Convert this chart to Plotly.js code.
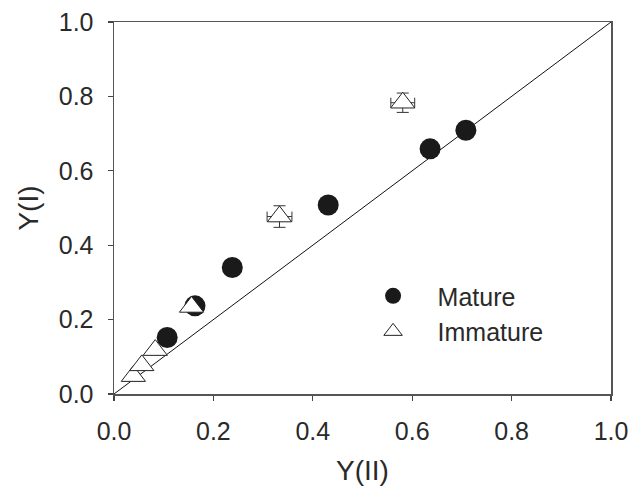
<!DOCTYPE html>
<html>
<head>
<meta charset="utf-8">
<script src="https://cdn.plot.ly/plotly-3.0.1.min.js"></script>
<style>html,body{margin:0;padding:0;background:#fff;}#chart{width:632px;height:497px;}</style>
</head>
<body>
<div id="chart"></div>
<script>
// Mature (filled circles)
const matureX = [0.107, 0.163, 0.238, 0.431, 0.636, 0.708];
const matureY = [0.152, 0.237, 0.340, 0.508, 0.659, 0.709];
// Immature (open triangles)
const immatureX = [0.039, 0.056, 0.083, 0.156, 0.333, 0.581];
const immatureY = [0.048, 0.077, 0.118, 0.234, 0.477, 0.783];
const immatureXErr = [0, 0, 0, 0, 0.025, 0.024];
const immatureYErr = [0, 0, 0, 0, 0.029, 0.026];
// 1:1 reference line
const lineX = [0, 1];
const lineY = [0, 1];
const tickVals = [0, 0.2, 0.4, 0.6, 0.8, 1.0];
const tickText = ['0.0', '0.2', '0.4', '0.6', '0.8', '1.0'];

const font = 'Liberation Sans, Arial, sans-serif';

const traces = [
  {x: lineX, y: lineY, mode: 'lines', line: {color: '#111', width: 1}, showlegend: false, hoverinfo: 'skip'},
  {x: matureX, y: matureY, mode: 'markers', name: 'Mature',
   marker: {symbol: 'circle', size: 21, color: '#1a1a1a', line: {color: '#1a1a1a', width: 0}}},
  {x: immatureX, y: immatureY, mode: 'markers', name: 'Immature',
   marker: {symbol: 'triangle-up', size: 21, color: '#ffffff', line: {color: '#222', width: 1}},
   error_x: {type: 'data', array: immatureXErr, visible: true, color: '#333', thickness: 1, width: 5},
   error_y: {type: 'data', array: immatureYErr, visible: true, color: '#333', thickness: 1, width: 6}}
];

const axisCommon = {
  range: [0, 1], tickvals: tickVals, ticktext: tickText,
  ticks: 'outside', ticklen: 5, tickwidth: 1.2, tickcolor: '#444',
  showline: true, linecolor: '#555', linewidth: 1.5, mirror: true,
  showgrid: false, zeroline: false,
  tickfont: {family: font, size: 25, color: '#2a2a2a'},
  ticklabelstandoff: 9
};

const layout = {
  width: 632, height: 497,
  margin: {l: 114, r: 21, t: 22, b: 103},
  paper_bgcolor: '#ffffff', plot_bgcolor: '#ffffff',
  showlegend: true,
  legend: {x: 0.472, y: 0.325, xanchor: 'left', yanchor: 'top', bgcolor: 'rgba(0,0,0,0)',
           font: {family: font, size: 25, color: '#2a2a2a'}, itemsizing: 'trace', itemwidth: 79, tracegroupgap: 0},
  xaxis: Object.assign({}, axisCommon, {
    title: {text: 'Y(II)', font: {family: font, size: 28, color: '#2a2a2a'}, standoff: 17}
  }),
  yaxis: Object.assign({}, axisCommon, {
    title: {text: 'Y(I)', font: {family: font, size: 28, color: '#2a2a2a'}, standoff: 12}
  })
};

Plotly.newPlot('chart', traces, layout, {displayModeBar: false, staticPlot: true});
</script>
</body>
</html>
